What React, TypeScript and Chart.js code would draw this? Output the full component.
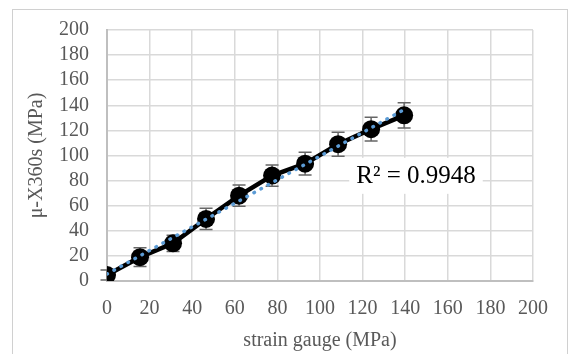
import React, { useEffect, useRef } from "react";
import { Chart, registerables } from "chart.js";

Chart.register(...registerables);

const strainGauge = [0, 15.5, 31, 46.5, 62, 77.5, 93, 108.5, 124, 139.5];
const x360s = [4.7, 19, 30, 49.5, 68, 84, 93.5, 109, 121, 132];
const errors = [4, 7.5, 6.5, 8.5, 8.5, 8.5, 9, 9.5, 9.5, 10];
const axisTicks = [0, 20, 40, 60, 80, 100, 120, 140, 160, 180, 200];
const r2Label = "R² = 0.9948";
const r2Anchor = [117, 83.8];
const xTitle = "strain gauge (MPa)";
const yTitle = "μ-X360s (MPa)";

function linearFit(xs: number[], ys: number[]) {
  const n = xs.length;
  const mx = xs.reduce((a, b) => a + b, 0) / n;
  const my = ys.reduce((a, b) => a + b, 0) / n;
  let sxy = 0, sxx = 0;
  for (let i = 0; i < n; i++) {
    sxy += (xs[i] - mx) * (ys[i] - my);
    sxx += (xs[i] - mx) * (xs[i] - mx);
  }
  const slope = sxy / sxx;
  return { slope, intercept: my - slope * mx };
}

const FONT = "'Liberation Serif', 'Times New Roman', serif";

export default function App() {
  const ref = useRef<HTMLCanvasElement | null>(null);

  useEffect(() => {
    const canvas = ref.current;
    if (!canvas) return;
    const fit = linearFit(strainGauge, x360s);
    const trendXs = [strainGauge[0], strainGauge[strainGauge.length - 1]];
    const trend = trendXs.map((x) => ({ x, y: fit.intercept + fit.slope * x }));

    const errorBars = {
      id: "errorBars",
      beforeDatasetsDraw(chart: any) {
        const { ctx, scales } = chart;
        const xs = scales.x, ys = scales.y;
        ctx.save();
        ctx.strokeStyle = "#666666";
        ctx.lineWidth = 1.5;
        strainGauge.forEach((x, i) => {
          const px = xs.getPixelForValue(x);
          const top = ys.getPixelForValue(x360s[i] + errors[i]);
          const bot = ys.getPixelForValue(x360s[i] - errors[i]);
          ctx.beginPath();
          ctx.moveTo(px, top);
          ctx.lineTo(px, bot);
          ctx.moveTo(px - 6.5, top);
          ctx.lineTo(px + 6.5, top);
          ctx.moveTo(px - 6.5, bot);
          ctx.lineTo(px + 6.5, bot);
          ctx.stroke();
        });
        ctx.restore();
      },
    };

    const r2 = {
      id: "r2",
      beforeDatasetsDraw(chart: any) {
        const { ctx, scales } = chart;
        const x = scales.x.getPixelForValue(r2Anchor[0]);
        const y = scales.y.getPixelForValue(r2Anchor[1]);
        ctx.save();
        ctx.font = `25px ${FONT}`;
        const w = ctx.measureText(r2Label).width;
        ctx.fillStyle = "#ffffff";
        ctx.fillRect(x - 7, y - 18, w + 14, 36);
        ctx.fillStyle = "#000000";
        ctx.textBaseline = "middle";
        ctx.textAlign = "left";
        ctx.fillText(r2Label, x, y + 1);
        ctx.restore();
      },
    };

    const chart = new Chart(canvas, {
      type: "scatter",
      data: {
        datasets: [
          {
            label: "trend",
            data: trend,
            showLine: true,
            borderColor: "#5B9BD5",
            borderWidth: 3.5,
            borderDash: [0.5, 7.5],
            borderCapStyle: "round",
            pointRadius: 0,
            order: 0,
          } as any,
          {
            label: "data",
            data: strainGauge.map((x, i) => ({ x, y: x360s[i] })),
            showLine: true,
            borderColor: "#000000",
            borderWidth: 4.5,
            backgroundColor: "#000000",
            pointRadius: 9,
            pointBorderWidth: 0,
            order: 1,
          },
        ],
      },
      options: {
        responsive: false,
        animation: false,
        layout: { padding: { top: 28, right: 37, left: 0, bottom: 0 } },
        plugins: { legend: { display: false }, tooltip: { enabled: false } },
        scales: {
          x: {
            type: "linear",
            min: 0,
            max: 200,
            afterFit: (s: any) => { s.height = 73; },
            afterBuildTicks: (s: any) => { s.ticks = axisTicks.map((v) => ({ value: v })); },
            grid: { color: "#d9d9d9", lineWidth: 1.5, drawTicks: false },
            border: { color: "#bfbfbf", width: 2 },
            ticks: { color: "#595959", font: { family: FONT, size: 20 }, padding: 16, autoSkip: false, maxRotation: 0 },
            title: {
              display: true,
              text: xTitle,
              color: "#595959",
              font: { family: FONT, size: 20 },
              padding: { top: 0, bottom: 1 },
            },
          },
          y: {
            type: "linear",
            min: 0,
            max: 200,
            afterFit: (s: any) => { s.width = 107; },
            afterBuildTicks: (s: any) => { s.ticks = axisTicks.map((v) => ({ value: v })); },
            grid: { color: "#d9d9d9", lineWidth: 1.5, drawTicks: false },
            border: { color: "#bfbfbf", width: 2 },
            ticks: { color: "#595959", font: { family: FONT, size: 20 }, padding: 18, autoSkip: false },
            title: {
              display: true,
              text: yTitle,
              color: "#595959",
              font: { family: FONT, size: 20 },
              padding: { top: 25, bottom: 0 },
            },
          },
        },
      },
      plugins: [errorBars, r2],
    } as any);
    return () => chart.destroy();
  }, []);

  return (
    <div style={{ position: "fixed", left: 0, top: 0, width: 570, height: 354, background: "#fff", overflow: "hidden" }}>
      <div
        style={{
          position: "absolute",
          left: 12,
          top: 9,
          width: 556,
          height: 400,
          border: "1px solid #d0d0d0",
          boxSizing: "border-box",
        }}
      />
      <canvas ref={ref} width={570} height={354} style={{ position: "absolute", left: 0, top: 0 }} />
    </div>
  );
}
